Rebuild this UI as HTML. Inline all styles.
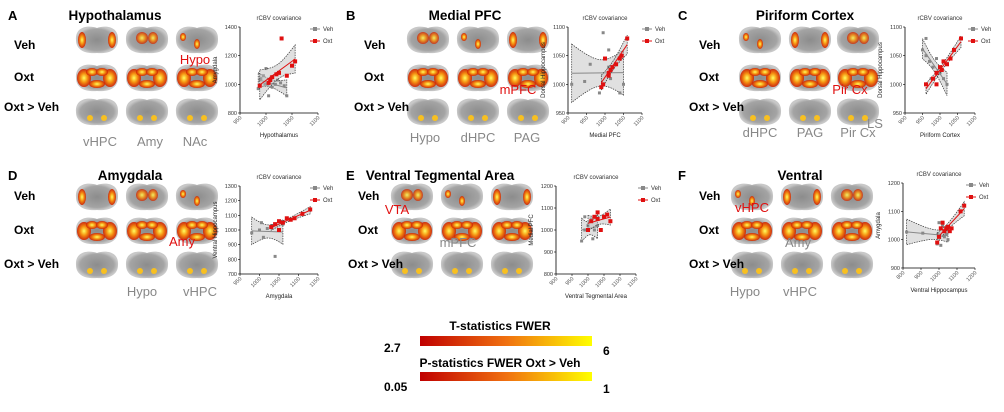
<!DOCTYPE html>
<html><head><meta charset="utf-8">
<style>
body{margin:0;background:#fff;width:1004px;height:412px;overflow:hidden;font-family:"Liberation Sans",sans-serif;}
svg{position:absolute;left:0;top:0}
</style></head>
<body>
<svg id="fig" width="1004" height="412" viewBox="0 0 1004 412">
<defs>
<linearGradient id="heat" x1="0" x2="1"><stop offset="0" stop-color="#c00000"/><stop offset="0.5" stop-color="#f07010"/><stop offset="1" stop-color="#ffff00"/></linearGradient>
<radialGradient id="blob"><stop offset="0" stop-color="#ffff60"/><stop offset="0.5" stop-color="#f59010"/><stop offset="1" stop-color="#d02000" stop-opacity="0.9"/></radialGradient>
<radialGradient id="bg"><stop offset="0" stop-color="#8c8c8c"/><stop offset="0.8" stop-color="#a4a4a4"/><stop offset="1" stop-color="#c8c8c8"/></radialGradient>
</defs>
<g id="brains"></g>
<g id="texts" font-weight="bold" fill="#000"></g>
<g id="plots"></g>
<g>
<text x="500" y="330" text-anchor="middle" font-size="12" font-weight="bold">T-statistics  FWER</text>
<rect x="420" y="336" width="172" height="10" fill="url(#heat)"/>
<text x="384" y="352" font-size="12" font-weight="bold">2.7</text>
<text x="603" y="355" font-size="12" font-weight="bold">6</text>
</g>
<g>
<text x="500" y="367" text-anchor="middle" font-size="12" font-weight="bold">P-statistics FWER Oxt &gt; Veh</text>
<rect x="420" y="372" width="172" height="9" fill="url(#heat)"/>
<text x="384" y="391" font-size="12" font-weight="bold">0.05</text>
<text x="603" y="393" font-size="12" font-weight="bold">1</text>
</g>
</svg>
<script>
// ---- Scatter data ----
const aVehX=[985,990,995,1000,1003,1005,1010,1012,1018,1022,1028,1035,1040,998];
const aVehY=[970,1040,1060,1110,1000,920,1050,980,1000,1030,1010,990,920,1000];
const aOxtX=[988,1005,1008,1012,1020,1025,1030,1040,1050,1056];
const aOxtY=[990,1010,1030,1050,1070,1080,1320,1060,1130,1160];
const bVehX=[910,960,985,995,1010,1010,1015,1040,1050,945];
const bVehY=[1000,1035,985,1090,1030,1060,1010,985,1000,1005];
const bOxtX=[990,995,1000,1010,1015,1020,1030,1040,1045,1060,1010];
const bOxtY=[995,1000,1045,1020,1025,1030,1035,1045,1050,1080,1015];
const cVehX=[950,960,970,980,990,1000,1010,1020,960,975];
const cVehY=[1060,1050,1040,1030,1045,1020,1010,1000,1080,1010];
const cOxtX=[960,980,990,1000,1005,1010,1020,1030,1040,1060,990];
const cOxtY=[1000,1010,1020,1030,1025,1040,1035,1045,1060,1080,1000];
const dVehX=[980,1000,1010,1020,1030,1040,1050,1060,1005,1035];
const dVehY=[980,1000,950,1010,1020,820,1000,1040,1050,1030];
const dOxtX=[1030,1040,1050,1060,1070,1080,1090,1110,1130,1050];
const dOxtY=[1020,1040,1060,1050,1080,1070,1080,1110,1140,1000];
const eVehX=[980,990,1000,1010,1015,1020,1030,990];
const eVehY=[950,1000,1020,1050,960,1000,1020,1060];
const eOxtX=[1000,1010,1020,1030,1040,1050,1060,1070,1030];
const eOxtY=[1000,1040,1060,1050,1000,1060,1070,1040,1080];
const fVehX=[820,910,990,1000,1010,1020,1030,1040,1050,995];
const fVehY=[1027,1023,985,1060,980,1050,1010,1020,1000,1020];
const fOxtX=[990,1010,1020,1030,1040,1050,1060,1070,1120,1140,1000];
const fOxtY=[990,1040,1060,1030,1040,1045,1030,1040,1100,1120,1010];
// ticks
const aXT=[950,1000,1050,1100], aYT=[800,1000,1200,1400];
const bXT=[900,950,1000,1050,1100], bYT=[950,1000,1050,1100];
const cXT=[900,950,1000,1050,1100], cYT=[950,1000,1050,1100];
const dXT=[950,1000,1050,1100,1150], dYT=[700,800,900,1000,1100,1200,1300];
const eXT=[900,950,1000,1050,1100,1150], eYT=[800,900,1000,1100,1200];
const fXT=[800,900,1000,1100,1200], fYT=[900,1000,1100,1200];

const NS="http://www.w3.org/2000/svg";
function mk(tag,attrs,parent){const e=document.createElementNS(NS,tag);for(const k in attrs)e.setAttribute(k,attrs[k]);parent.appendChild(e);return e;}
const plots=document.getElementById('plots');

function fit(xs,ys){const n=xs.length;let mx=0,my=0;for(let i=0;i<n;i++){mx+=xs[i];my+=ys[i];}mx/=n;my/=n;let sxx=0,sxy=0;for(let i=0;i<n;i++){sxx+=(xs[i]-mx)**2;sxy+=(xs[i]-mx)*(ys[i]-my);}const b=sxy/sxx;let se=0;for(let i=0;i<n;i++){se+=(ys[i]-my-b*(xs[i]-mx))**2;}se=Math.sqrt(se/(n-2));return {mx,my,b,sxx,se,n,min:Math.min(...xs),max:Math.max(...xs)};}

function scatter(name,x0,y0,w,h,xT,yT,series,xlab,ylab,legX){
  const g=mk('g',{},plots);
  
  
  const xmin=xT[0],xmax=xT[xT.length-1],ymin=yT[0],ymax=yT[yT.length-1];
  const X=v=>x0+(v-xmin)/(xmax-xmin)*w, Y=v=>y0+h-(v-ymin)/(ymax-ymin)*h;
  const t=mk('text',{x:x0+w/2,y:y0-7,'font-size':6,'text-anchor':'middle',fill:'#333'},g);t.textContent='rCBV covariance';
  mk('line',{x1:x0,y1:y0,x2:x0,y2:y0+h,stroke:'#000','stroke-width':0.8},g);
  mk('line',{x1:x0,y1:y0+h,x2:x0+w,y2:y0+h,stroke:'#000','stroke-width':0.8},g);
  yT.forEach(v=>{mk('line',{x1:x0-2,y1:Y(v),x2:x0,y2:Y(v),stroke:'#000','stroke-width':0.6},g);const tt=mk('text',{x:x0-3,y:Y(v)+2,'font-size':5.5,'text-anchor':'end',fill:'#333'},g);tt.textContent=v;});
  xT.forEach(v=>{mk('line',{x1:X(v),y1:y0+h,x2:X(v),y2:y0+h+2,stroke:'#000','stroke-width':0.6},g);const tt=mk('text',{x:X(v)+2,y:y0+h+5,'font-size':5.5,'text-anchor':'end',fill:'#555',transform:`rotate(-45 ${X(v)+2} ${y0+h+5})`},g);tt.textContent=v;});
  const xl=mk('text',{x:x0+w/2,y:y0+h+24,'font-size':6,'text-anchor':'middle',fill:'#222'},g);xl.textContent=xlab;
  const yl=mk('text',{x:x0-23,y:y0+h/2,'font-size':6,'text-anchor':'middle',fill:'#222',transform:`rotate(-90 ${x0-23} ${y0+h/2})`},g);yl.textContent=ylab;
  series.forEach((s,si)=>{
    const f=fit(s.x,s.y);
    const up=[],lo=[];
    for(let k=0;k<=20;k++){const xv=f.min+(f.max-f.min)*k/20;const yv=f.my+f.b*(xv-f.mx);const d=2*f.se*Math.sqrt(1/f.n+(xv-f.mx)**2/f.sxx);up.push([X(xv),Y(Math.min(ymax,yv+d))]);lo.push([X(xv),Y(Math.max(ymin,yv-d))]);}
    const pts=up.concat(lo.reverse()).map(p=>p.join(',')).join(' ');
    const band=mk('polygon',{points:pts,fill:'#bbb','fill-opacity':0.45,stroke:'#333','stroke-width':0.7,'stroke-dasharray':'1.5,1'},g);
    
    
    const ln=mk('line',{x1:X(f.min),y1:Y(f.my+f.b*(f.min-f.mx)),x2:X(f.max),y2:Y(f.my+f.b*(f.max-f.mx)),stroke:s.c,'stroke-width':1},g);
    
    
    s.x.forEach((xv,i)=>{
      const sz=s.n==='oxt'?4:3;
      const r=mk('rect',{x:X(xv)-sz/2,y:Y(s.y[i])-sz/2,width:sz,height:sz,fill:s.c},g);
      
      
    });
    const ly=y0+2+si*12;
    mk('line',{x1:legX,y1:ly,x2:legX+10,y2:ly,stroke:s.c,'stroke-width':1},g);
    mk('rect',{x:legX+3,y:ly-2,width:4,height:4,fill:s.c},g);
    const lt=mk('text',{x:legX+13,y:ly+2,'font-size':6,fill:'#333'},g);lt.textContent=s.n==='oxt'?'Oxt':'Veh';
  });
}
const V='#888', O='#e01010';
scatter('scatter-hypothalamus',240,27,78,86,aXT,aYT,[{n:'veh',x:aVehX,y:aVehY,c:V},{n:'oxt',x:aOxtX,y:aOxtY,c:O}],'Hypothalamus','Amygdala',310);
scatter('scatter-medial-pfc',568,27,74,86,bXT,bYT,[{n:'veh',x:bVehX,y:bVehY,c:V},{n:'oxt',x:bOxtX,y:bOxtY,c:O}],'Medial PFC','Dorsal Hippocampus',642);
scatter('scatter-piriform',905,27,70,86,cXT,cYT,[{n:'veh',x:cVehX,y:cVehY,c:V},{n:'oxt',x:cOxtX,y:cOxtY,c:O}],'Piriform Cortex','Dorsal Hippocampus',968);
scatter('scatter-amygdala',240,186,78,88,dXT,dYT,[{n:'veh',x:dVehX,y:dVehY,c:V},{n:'oxt',x:dOxtX,y:dOxtY,c:O}],'Amygdala','Ventral Hippocampus',310);
scatter('scatter-vta',556,186,80,88,eXT,eYT,[{n:'veh',x:eVehX,y:eVehY,c:V},{n:'oxt',x:eOxtX,y:eOxtY,c:O}],'Ventral Tegmental Area','Medial PFC',638);
scatter('scatter-ventral',903,183,72,85,fXT,fYT,[{n:'veh',x:fVehX,y:fVehY,c:V},{n:'oxt',x:fOxtX,y:fOxtY,c:O}],'Ventral Hippocampus','Amygdala',966);

// ---- brains ----
const brains=document.getElementById('brains');
function brain(cx,cy,level,seed){
  const g=mk('g',{},brains);
  
  
  mk('path',{d:`M${cx-21},${cy} C${cx-22},${cy-14} ${cx-8},${cy-15} ${cx},${cy-12} C${cx+8},${cy-15} ${cx+22},${cy-14} ${cx+21},${cy} C${cx+21},${cy+11} ${cx+10},${cy+14} ${cx},${cy+13} C${cx-10},${cy+14} ${cx-21},${cy+11} ${cx-21},${cy}Z`,fill:'url(#bg)'},g);
  if(level===2){
    [[-13,0,7,9],[13,0,7,9],[-5,-6,6,4],[5,-6,6,4],[0,6,8,4]].forEach(b=>mk('ellipse',{cx:cx+b[0],cy:cy+b[1],rx:b[2],ry:b[3],fill:'url(#blob)'},g));
  } else if(level===1){
    const s=seed%3;
    if(s===0)[[-15,0,4,8],[15,0,4,8]].forEach(b=>mk('ellipse',{cx:cx+b[0],cy:cy+b[1],rx:b[2],ry:b[3],fill:'url(#blob)'},g));
    else if(s===1)[[-5,-2,6,6],[6,-2,5,6]].forEach(b=>mk('ellipse',{cx:cx+b[0],cy:cy+b[1],rx:b[2],ry:b[3],fill:'url(#blob)','fill-opacity':0.85},g));
    else [[0,4,3,5],[-14,-3,3,4]].forEach(b=>mk('ellipse',{cx:cx+b[0],cy:cy+b[1],rx:b[2],ry:b[3],fill:'url(#blob)'},g));
  } else {
    [[-7,6,3,3],[7,6,3,3]].forEach(b=>mk('ellipse',{cx:cx+b[0],cy:cy+b[1],rx:b[2],ry:b[3],fill:'#f8c020'},g));
  }
}
const cols=[[97,147,197],[428,478,528],[760,810,858],[97,147,197],[412,462,512],[752,802,852]];
const rowsTop=[40,78,112], rowsBot=[197,231,265];
cols.forEach((c,pi)=>{const rows=pi<3?rowsTop:rowsBot;rows.forEach((y,ri)=>c.forEach((x,ci)=>brain(x,y,ri===0?1:(ri===1?2:0),ci+pi)));});

// ---- text labels ----
const T=document.getElementById('texts');
function txt(s,x,y,size,opts,name){const e=mk('text',Object.assign({x:x,y:y,'font-size':size},opts||{}),T);e.textContent=s;return e;}
const panels=[['A','Hypothalamus',8,20,115,0,15],['B','Medial PFC',346,20,465,350,15],['C','Piriform Cortex',678,20,805,685,15],['D','Amygdala',8,180,130,0,175],['E','Ventral Tegmental Area',346,180,440,344,175],['F','Ventral',678,180,800,685,175]];
panels.forEach(p=>{
  txt(p[0],p[2],p[3],13,{},'panel-label');
  txt(p[1],p[4],p[3],13.5,{'text-anchor':'middle'},'panel-title');
  const bx=p[5]+6, by=p[6];
  txt('Veh',bx+8,by+(p[6]<100?34:25),12,{},'row-label-veh');
  txt('Oxt',bx+8,by+(p[6]<100?66:59),12,{},'row-label-oxt');
  txt('Oxt > Veh',bx-2,by+(p[6]<100?96:93),12,{},'row-label-oxt-gt-veh');
});
const gray={fill:'#888','font-weight':'normal'}, red={fill:'#e01010','font-weight':'normal'};
[['vHPC',100,146],['Amy',150,146],['NAc',195,146],['Hypo',425,142],['dHPC',478,142],['PAG',527,142],['dHPC',760,137],['PAG',810,137],['Pir Cx',858,137],['LS',875,128],['Hypo',142,296],['vHPC',200,296],['mPFC',458,247],['Amy',798,247],['Hypo',745,296],['vHPC',800,296]].forEach(l=>txt(l[0],l[1],l[2],13,Object.assign({'text-anchor':'middle'},gray),'region-label'));
[['Hypo',195,64],['mPFC',518,94],['Pir Cx',850,94],['Amy',182,246],['VTA',397,214],['vHPC',752,212]].forEach(l=>txt(l[0],l[1],l[2],13,Object.assign({'text-anchor':'middle'},red),'region-label-highlight'));
</script>
</body></html>
